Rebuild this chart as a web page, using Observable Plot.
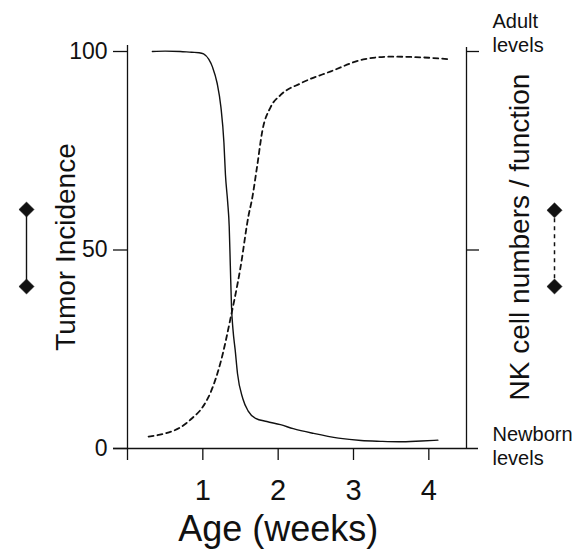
<!DOCTYPE html>
<html>
<head>
<meta charset="utf-8">
<script src="https://cdn.jsdelivr.net/npm/d3@7"></script>
<script src="https://cdn.jsdelivr.net/npm/@observablehq/plot@0.6"></script>
<style>
  html, body { margin: 0; padding: 0; background: #fff; }
  #chart svg { display: block; }
</style>
</head>
<body>
<div id="chart"></div>
<script>
// Tumor incidence (%) by age (weeks) — solid line
const tumorAge = [0.33, 0.5, 0.7, 0.85, 0.95, 1.01, 1.08, 1.13, 1.19, 1.24, 1.28, 1.30, 1.33, 1.35, 1.365, 1.38, 1.40, 1.43, 1.46, 1.53, 1.60, 1.70, 1.85, 2.03, 2.20, 2.47, 2.80, 3.10, 3.36, 3.60, 3.90, 4.12];
const tumorIncidence = [100, 100.1, 100, 99.8, 99.7, 99.4, 98, 96, 92, 86, 77, 69, 62, 56, 46, 36, 30, 24.7, 18.9, 12.6, 9.5, 7.6, 6.8, 6, 5, 3.8, 2.6, 2.0, 1.8, 1.7, 1.9, 2.1];

// NK cell numbers / function (newborn = 0, adult = 100) — dashed line
const nkAge = [0.28, 0.5, 0.7, 0.85, 1.0, 1.1, 1.24, 1.37, 1.50, 1.61, 1.65, 1.72, 1.79, 1.90, 2.03, 2.30, 2.70, 3.13, 3.49, 3.93, 4.29];
const nkLevel = [3, 3.8, 5.3, 7.5, 10.5, 14, 22, 33, 45.6, 59, 62.5, 71, 80, 86, 89, 92, 95, 98, 98.7, 98.5, 98];

// Axis ticks and labels
const xTicks = [0, 1, 2, 3, 4];
const xEnd = 4.5;
const leftTicks = [0, 50, 100];
const rightTicks = [50, 100];
const xTitle = "Age (weeks)";
const leftTitle = "Tumor Incidence";
const rightTitle = "NK cell numbers / function";
const adultLabel = "Adult\nlevels";
const newbornLabel = "Newborn\nlevels";

const tumor = tumorAge.map((a, i) => ({age: a, value: tumorIncidence[i]}));
const nk = nkAge.map((a, i) => ({age: a, value: nkLevel[i]}));

const ink = "#111";
const font = "'Liberation Sans', Arial, sans-serif";

const chart = Plot.plot({
  width: 576,
  height: 550,
  marginLeft: 127,
  marginRight: 110,
  marginTop: 51,
  marginBottom: 102,
  style: {fontFamily: font, color: ink, background: "#fff"},
  x: {domain: [0, xEnd]},
  y: {domain: [0, 100]},
  marks: [
    // axis lines
    Plot.ruleX([0], {stroke: ink, strokeWidth: 1.3, insetTop: -6}),
    Plot.ruleX([xEnd], {stroke: ink, strokeWidth: 1.3, insetTop: -4}),
    Plot.ruleY([0], {stroke: ink, strokeWidth: 1.3, insetLeft: -14, insetRight: -12}),
    // axes
    Plot.axisX({ticks: xTicks, tickFormat: d => d === 0 ? "" : String(d), tickSize: 12, tickPadding: 19, fontSize: 29, label: null, stroke: ink, strokeWidth: 1.3, fill: ink}),
    Plot.axisY({anchor: "left", ticks: leftTicks, tickSize: 14, tickPadding: 6, fontSize: 23, label: null, stroke: ink, strokeWidth: 1.3, fill: ink}),
    Plot.axisY({anchor: "right", ticks: rightTicks, tickSize: 12, tickFormat: () => "", label: null, stroke: ink, strokeWidth: 1.3}),
    // titles
    Plot.text([xTitle], {x: d3.mean(xTicks), frameAnchor: "bottom", lineAnchor: "bottom", dy: 92, fontSize: 36, fill: ink}),
    Plot.text([leftTitle], {frameAnchor: "left", rotate: -90, textAnchor: "middle", lineAnchor: "bottom", dx: -53, dy: -3, fontSize: 28, fill: ink}),
    Plot.text([rightTitle], {frameAnchor: "right", rotate: -90, textAnchor: "middle", lineAnchor: "bottom", dx: 62, dy: -13, fontSize: 28, fill: ink}),
    Plot.text([adultLabel], {frameAnchor: "top-right", textAnchor: "start", lineAnchor: "top", dx: 26, dy: -41, fontSize: 20, lineHeight: 1.2, fill: ink}),
    Plot.text([newbornLabel], {frameAnchor: "bottom-right", textAnchor: "start", lineAnchor: "top", dx: 26, dy: -25, fontSize: 20, lineHeight: 1.2, fill: ink}),
    // data lines
    Plot.line(tumor, {x: "age", y: "value", curve: "monotone-x", stroke: ink, strokeWidth: 1.4}),
    Plot.line(nk, {x: "age", y: "value", curve: "monotone-x", stroke: ink, strokeWidth: 1.8, strokeDasharray: "5,4"}),
    // line keys
    Plot.link([0], {x1: 0, x2: 0, y1: 60.2, y2: 40.8, dx: -101, stroke: ink, strokeWidth: 1.4}),
    Plot.dot([60.2, 40.8], {x: 0, y: d => d, dx: -101, symbol: "diamond2", r: 6.8, fill: ink, stroke: ink, strokeWidth: 0.5}),
    Plot.link([xEnd], {x1: xEnd, x2: xEnd, y1: 60, y2: 40.8, dx: 88, stroke: ink, strokeWidth: 1.5, strokeDasharray: "4,4"}),
    Plot.dot([60, 40.8], {x: xEnd, y: d => d, dx: 88, symbol: "diamond2", r: 6.8, fill: ink, stroke: ink, strokeWidth: 0.5})
  ]
});
document.getElementById("chart").appendChild(chart);
</script>
</body>
</html>
